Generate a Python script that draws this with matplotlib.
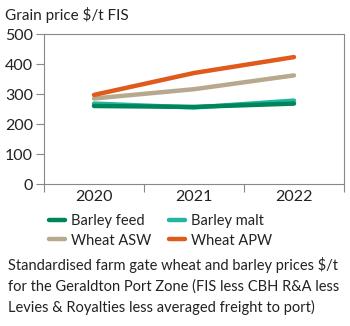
import matplotlib.pyplot as plt
from matplotlib.lines import Line2D
import numpy as np

plt.rcParams['font.family'] = ['Lato', 'DejaVu Sans']

years = ['2020', '2021', '2022']
barley_feed = [260, 257, 268]
barley_malt = [268, 255, 278]
wheat_asw = [285, 316, 362]
wheat_apw = [297, 370, 423]

colors = {
    'Barley feed': '#00845a',
    'Barley malt': '#22b5a2',
    'Wheat ASW': '#b8a88e',
    'Wheat APW': '#e05a1c',
}
values = {
    'Barley feed': barley_feed,
    'Barley malt': barley_malt,
    'Wheat ASW': wheat_asw,
    'Wheat APW': wheat_apw,
}

fig = plt.figure(figsize=(3.5, 3.26), dpi=100)
ax = fig.add_axes([44 / 350, 1 - 184 / 326, 300 / 350, 150 / 326])

x = np.arange(len(years))
# malt first so feed sits on top of it
for name in ['Barley malt', 'Barley feed', 'Wheat ASW', 'Wheat APW']:
    ax.plot(x, values[name], color=colors[name], lw=3.2, solid_capstyle='round')

ax.set_xlim(-0.5, 2.5)
ax.set_ylim(0, 500)
ax.set_yticks(range(0, 501, 100))
ax.set_xticks([-0.5, 0.5, 1.5, 2.5])
ax.set_xticklabels([])
ax.set_xticks(x, minor=True)
ax.set_xticklabels(years, minor=True)
ax.tick_params(axis='x', which='minor', length=0, pad=4, labelsize=11.5, labelcolor='#222222')
ax.tick_params(axis='x', which='major', length=6, color='#888888', width=0.8)
ax.tick_params(axis='y', length=6, color='#888888', width=0.8, labelsize=11.5, labelcolor='#222222', pad=2)
for s in ax.spines.values():
    s.set_color('#888888')
    s.set_linewidth(0.8)

fig.text(5 / 350, 1 - 15 / 326, 'Grain price $/t FIS', fontsize=11, color='#222222', va='center')

# legend fills column-wise, so order gives rows: feed/malt, ASW/APW
order = ['Barley feed', 'Wheat ASW', 'Barley malt', 'Wheat APW']
handles = [Line2D([], [], color=colors[n], lw=3.2, solid_capstyle='round') for n in order]
fig.legend(handles, order, ncol=2, frameon=False,
           loc='center left', bbox_to_anchor=(36 / 350, 1 - 231 / 326),
           fontsize=10.5, handlelength=1.1, handletextpad=0.4, columnspacing=1.2,
           labelspacing=0.35, labelcolor='#222222')

fig.text(8 / 350, 1 - 286 / 326,
         'Standardised farm gate wheat and barley prices $/t\n'
         'for the Geraldton Port Zone (FIS less CBH R&A less\n'
         'Levies & Royalties less averaged freight to port)',
         fontsize=10.5, color='#222222', va='center', linespacing=1.5)

fig.savefig('out.png', dpi=100)
